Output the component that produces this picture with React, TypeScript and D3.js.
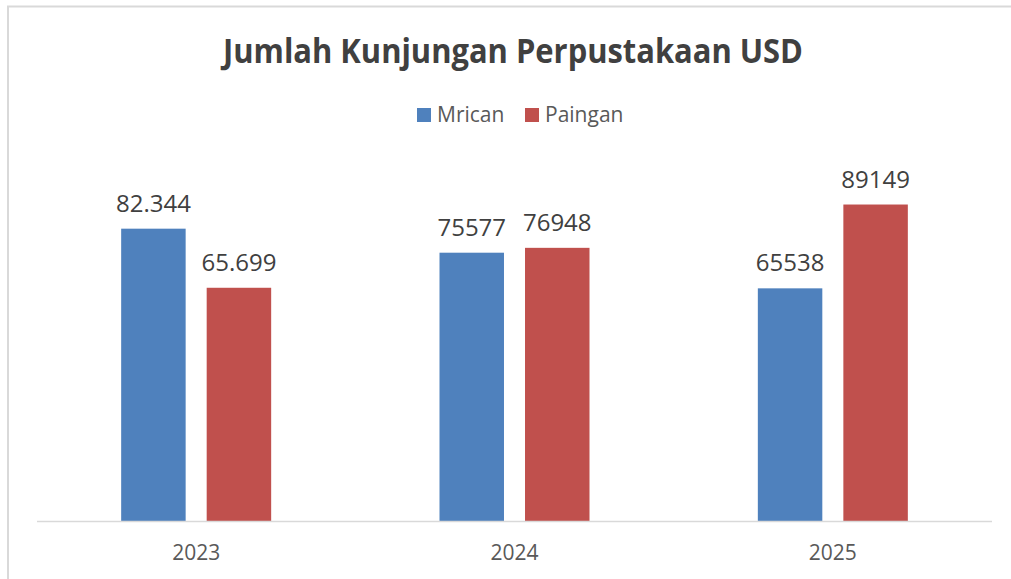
import React, { useEffect, useRef } from 'react'
import * as d3 from 'd3'

const years = ['2023', '2024', '2025']
const seriesNames = ['Mrican', 'Paingan']
const mrican = [82344, 75577, 65538]
const paingan = [65699, 76948, 89149]
const mricanLabels = ['82.344', '75577', '65538']
const painganLabels = ['65.699', '76948', '89149']
const colors = ['#4F81BD', '#C0504D']

const W = 1011
const H = 579
const FONT = "'Open Sans', 'Noto Sans', sans-serif"

const App = () => {
    const ref = useRef<SVGSVGElement>(null)

    useEffect(() => {
        document.body.style.margin = '0'
        const svg = d3.select(ref.current)
        svg.selectAll('*').remove()

        const plot = { left: 37, right: 992, top: 166, bottom: 521 }

        // chart frame (only top and left edges fall inside the picture)
        svg.append('rect')
            .attr('x', 8)
            .attr('y', 6.5)
            .attr('width', W + 20)
            .attr('height', H + 20)
            .attr('fill', '#fff')
            .attr('stroke', '#D9D9D9')
            .attr('stroke-width', 2)

        svg.append('text')
            .attr('x', 513)
            .attr('y', 63)
            .attr('text-anchor', 'middle')
            .attr('font-family', FONT)
            .attr('font-weight', 700)
            .attr('font-size', 34)
            .attr('fill', '#404040')
            .attr('textLength', 580)
            .attr('lengthAdjust', 'spacingAndGlyphs')
            .text('Jumlah Kunjungan Perpustakaan USD')

        // legend
        const legendX = [417, 525]
        seriesNames.forEach((name, i) => {
            svg.append('rect')
                .attr('x', legendX[i])
                .attr('y', 108)
                .attr('width', 14)
                .attr('height', 14)
                .attr('fill', colors[i])
            svg.append('text')
                .attr('x', legendX[i] + 20)
                .attr('y', 122)
                .attr('font-family', FONT)
                .attr('font-size', 21)
                .attr('fill', '#595959')
                .text(name)
        })

        const x0 = d3.scaleBand()
            .domain(years)
            .range([plot.left, plot.right])
            .padding(0)

        const groupW = 150
        const x1 = d3.scaleBand()
            .domain(seriesNames)
            .range([0, groupW])
            .paddingInner(0.246)
            .paddingOuter(0)

        const y = d3.scaleLinear()
            .domain([0, 100000])
            .range([plot.bottom, plot.top])

        const rows = years.map((yr, i) => ({
            year: yr,
            values: [
                { name: 'Mrican', value: mrican[i], label: mricanLabels[i] },
                { name: 'Paingan', value: paingan[i], label: painganLabels[i] },
            ],
        }))

        const groups = svg.selectAll('.grp')
            .data(rows)
            .enter()
            .append('g')
            .attr('class', 'grp')
            .attr('transform', d => `translate(${x0(d.year)! + (x0.bandwidth() - groupW) / 2}, 0)`)

        groups.selectAll('rect')
            .data(d => d.values)
            .enter()
            .append('rect')
            .attr('x', d => x1(d.name)!)
            .attr('y', d => y(d.value))
            .attr('width', x1.bandwidth())
            .attr('height', d => plot.bottom - y(d.value))
            .attr('fill', (d, i) => colors[i])

        groups.selectAll('text')
            .data(d => d.values)
            .enter()
            .append('text')
            .attr('x', d => x1(d.name)! + x1.bandwidth() / 2)
            .attr('y', d => y(d.value) - 17)
            .attr('text-anchor', 'middle')
            .attr('font-family', FONT)
            .attr('font-size', 24)
            .attr('fill', '#404040')
            .text(d => d.label)

        // x axis
        svg.append('line')
            .attr('x1', plot.left)
            .attr('x2', plot.right)
            .attr('y1', plot.bottom + 0.5)
            .attr('y2', plot.bottom + 0.5)
            .attr('stroke', '#D9D9D9')
            .attr('stroke-width', 1.5)

        svg.selectAll('.xlab')
            .data(years)
            .enter()
            .append('text')
            .attr('class', 'xlab')
            .attr('x', d => x0(d)! + x0.bandwidth() / 2)
            .attr('y', 560)
            .attr('text-anchor', 'middle')
            .attr('font-family', FONT)
            .attr('font-size', 21)
            .attr('fill', '#595959')
            .text(d => d)
    }, [])

    return (
        <svg ref={ref} width={W} height={H} style={{ display: 'block' }} />
    )
}

export default App
